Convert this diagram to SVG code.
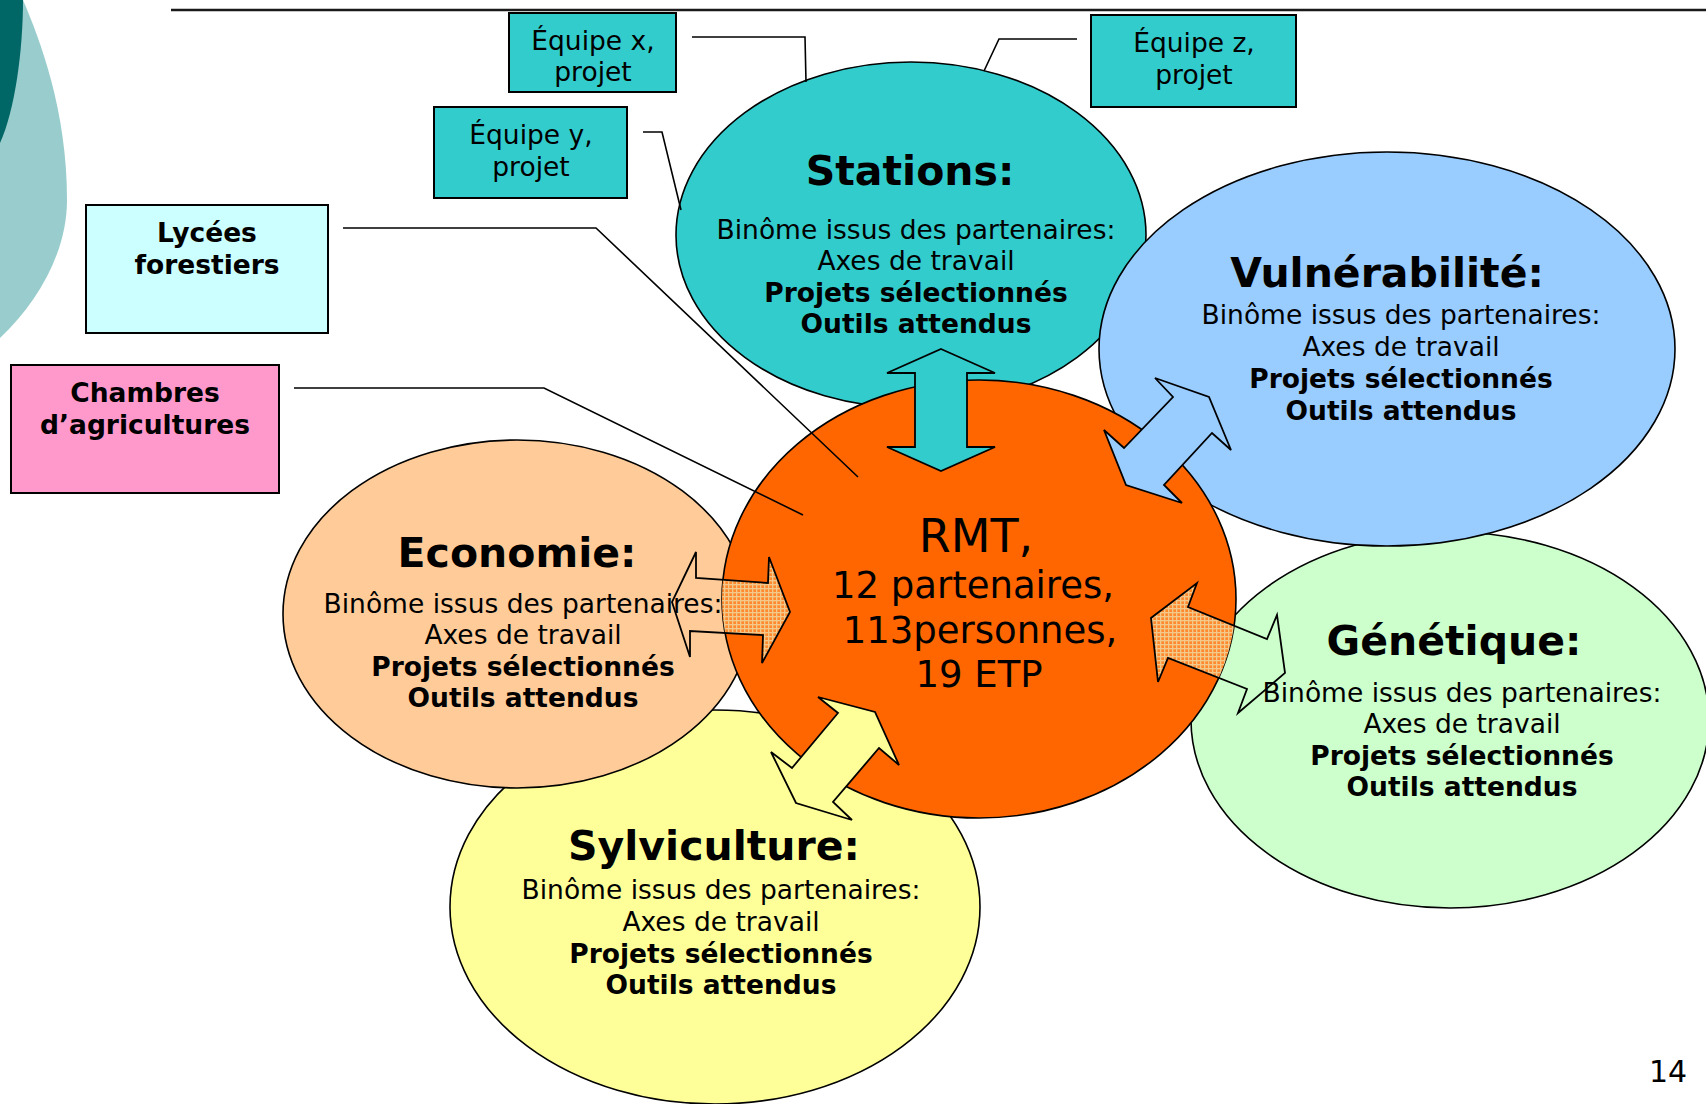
<svg xmlns="http://www.w3.org/2000/svg" width="1706" height="1104" viewBox="0 0 1706 1104">
<style>
text { font-family: "DejaVu Sans", Verdana, sans-serif; fill: #000; }
.title { font-size: 41px; font-weight: bold; text-anchor: middle; }
.body { font-size: 26.5px; text-anchor: middle; }
.bold { font-weight: bold; }
.rmt1 { font-size: 46px; text-anchor: middle; }
.rmt { font-size: 37px; text-anchor: middle; }
.ell { stroke: #000; stroke-width: 1.6; }
.box { stroke: #000; stroke-width: 2; }
.line { fill: none; stroke: #000; stroke-width: 1.6; }
.arrow { stroke: #000; stroke-width: 1.8; stroke-linejoin: miter; }
</style>
<defs>
<pattern id="hatch" width="4" height="4" patternUnits="userSpaceOnUse">
<rect width="4" height="4" fill="#FF8A2E"/>
<rect width="4" height="1.3" fill="#F2C98A"/>
<rect width="1.3" height="4" fill="#F2C98A"/>
</pattern>
<clipPath id="rmtClip"><ellipse cx="979" cy="599" rx="257" ry="219"/></clipPath>
</defs>
<rect width="1706" height="1104" fill="#fff"/>
<g id="decor">
<path d="M0,0 L23,0 C40,40 67,110 67,200 C67,250 40,300 0,338 Z" fill="#99CCCC"/>
<path d="M0,0 L23,0 C23,50 15,110 0,143 Z" fill="#006666"/>
<line x1="171" y1="10" x2="1706" y2="10" stroke="#1a1a1a" stroke-width="2.6"/>
</g>
<g id="node-stations">
<ellipse class="ell" cx="911" cy="235" rx="235" ry="173" fill="#33CCCC"/>
<text class="title" x="910" y="185">Stations:</text>
<text class="body" x="916" y="239">Binôme issus des partenaires:</text>
<text class="body" x="916" y="270">Axes de travail</text>
<text class="body bold" x="916" y="302">Projets sélectionnés</text>
<text class="body bold" x="916" y="333">Outils attendus</text>
</g>
<g id="node-genetique">
<ellipse class="ell" cx="1450" cy="720" rx="259" ry="188" fill="#CCFFCC"/>
<text class="title" x="1454" y="655">Génétique:</text>
<text class="body" x="1462" y="702">Binôme issus des partenaires:</text>
<text class="body" x="1462" y="733">Axes de travail</text>
<text class="body bold" x="1462" y="765">Projets sélectionnés</text>
<text class="body bold" x="1462" y="796">Outils attendus</text>
</g>
<g id="node-vulnerabilite">
<ellipse class="ell" cx="1387" cy="349" rx="288" ry="197" fill="#99CCFF"/>
<text class="title" x="1387" y="287">Vulnérabilité:</text>
<text class="body" x="1401" y="324">Binôme issus des partenaires:</text>
<text class="body" x="1401" y="356">Axes de travail</text>
<text class="body bold" x="1401" y="388">Projets sélectionnés</text>
<text class="body bold" x="1401" y="420">Outils attendus</text>
</g>
<g id="node-sylviculture">
<ellipse class="ell" cx="715" cy="907" rx="265" ry="197" fill="#FFFF99"/>
<text class="title" x="714" y="860">Sylviculture:</text>
<text class="body" x="721" y="899">Binôme issus des partenaires:</text>
<text class="body" x="721" y="931">Axes de travail</text>
<text class="body bold" x="721" y="963">Projets sélectionnés</text>
<text class="body bold" x="721" y="994">Outils attendus</text>
</g>
<g id="node-economie">
<ellipse class="ell" cx="517" cy="614" rx="234" ry="174" fill="#FFCC99"/>
<text class="title" x="517" y="567">Economie:</text>
<text class="body" x="523" y="613">Binôme issus des partenaires:</text>
<text class="body" x="523" y="644">Axes de travail</text>
<text class="body bold" x="523" y="676">Projets sélectionnés</text>
<text class="body bold" x="523" y="707">Outils attendus</text>
</g>
<g id="node-rmt">
<ellipse class="ell" cx="979" cy="599" rx="257" ry="219" fill="#FF6600"/>
<text class="rmt1" x="976" y="552">RMT,</text>
<text class="rmt" x="973" y="598">12 partenaires,</text>
<text class="rmt" x="980" y="643">113personnes,</text>
<text class="rmt" x="979" y="687">19 ETP</text>
</g>
<g id="node-equipe-x">
<rect class="box" x="509" y="13" width="167" height="79" fill="#33CCCC"/>
<text class="body" x="593" y="50">Équipe x,</text>
<text class="body" x="593" y="81">projet</text>
</g>
<g id="node-equipe-y">
<rect class="box" x="434" y="107" width="193" height="91" fill="#33CCCC"/>
<text class="body" x="531" y="144">Équipe y,</text>
<text class="body" x="531" y="176">projet</text>
</g>
<g id="node-equipe-z">
<rect class="box" x="1091" y="15" width="205" height="92" fill="#33CCCC"/>
<text class="body" x="1194" y="52">Équipe z,</text>
<text class="body" x="1194" y="84">projet</text>
</g>
<g id="node-lycees">
<rect class="box" x="86" y="205" width="242" height="128" fill="#CCFFFF"/>
<text class="body bold" x="207" y="242">Lycées</text>
<text class="body bold" x="207" y="274">forestiers</text>
</g>
<g id="node-chambres">
<rect class="box" x="11" y="365" width="268" height="128" fill="#FF99CC"/>
<text class="body bold" x="145" y="402">Chambres</text>
<text class="body bold" x="145" y="434">d’agricultures</text>
</g>
<g id="connectors">
<path class="arrow" fill="#33CCCC" d="M941,349 L995,373 L967,373 L967,447 L995,447 L941,471 L887,447 L915,447 L915,373 L887,373 Z"/>
<path class="arrow" fill="#99CCFF" d="M1155,378 L1209,397 L1231,450 L1212,433 L1164,485 L1182,503 L1126,485 L1104,430 L1124,448 L1173,397 Z"/>
<path class="arrow" fill="#FFFF99" d="M818,697 L875,712 L899,765 L879,748 L833,802 L852,820 L796,803 L771,752 L792,768 L838,713 Z"/>
<path fill="url(#hatch)" clip-path="url(#rmtClip)" d="M1197,583 L1188,607 L1267,639 L1277,615 L1285,673 L1238,713 L1247,689 L1168,658 L1158,682 L1151,618 Z"/>
<path class="arrow" fill="none" d="M1197,583 L1188,607 L1267,639 L1277,615 L1285,673 L1238,713 L1247,689 L1168,658 L1158,682 L1151,618 Z"/>
<path fill="url(#hatch)" clip-path="url(#rmtClip)" d="M696,552 L696,578 L768,583 L769,557 L790,612 L762,663 L763,635 L690,631 L690,657 L672,602 Z"/>
<path class="arrow" fill="none" d="M696,552 L696,578 L768,583 L769,557 L790,612 L762,663 L763,635 L690,631 L690,657 L672,602 Z"/>
<polyline class="line" points="692,37 805,37 806,82"/>
<polyline class="line" points="1077,39 999,39 984,71"/>
<polyline class="line" points="643,132 662,132 681,210"/>
<polyline class="line" points="343,228 596,228 858,477"/>
<polyline class="line" points="294,388 544,388 803,515"/>
</g>
<text x="1649" y="1082" style="font-size:30px">14</text>
</svg>
